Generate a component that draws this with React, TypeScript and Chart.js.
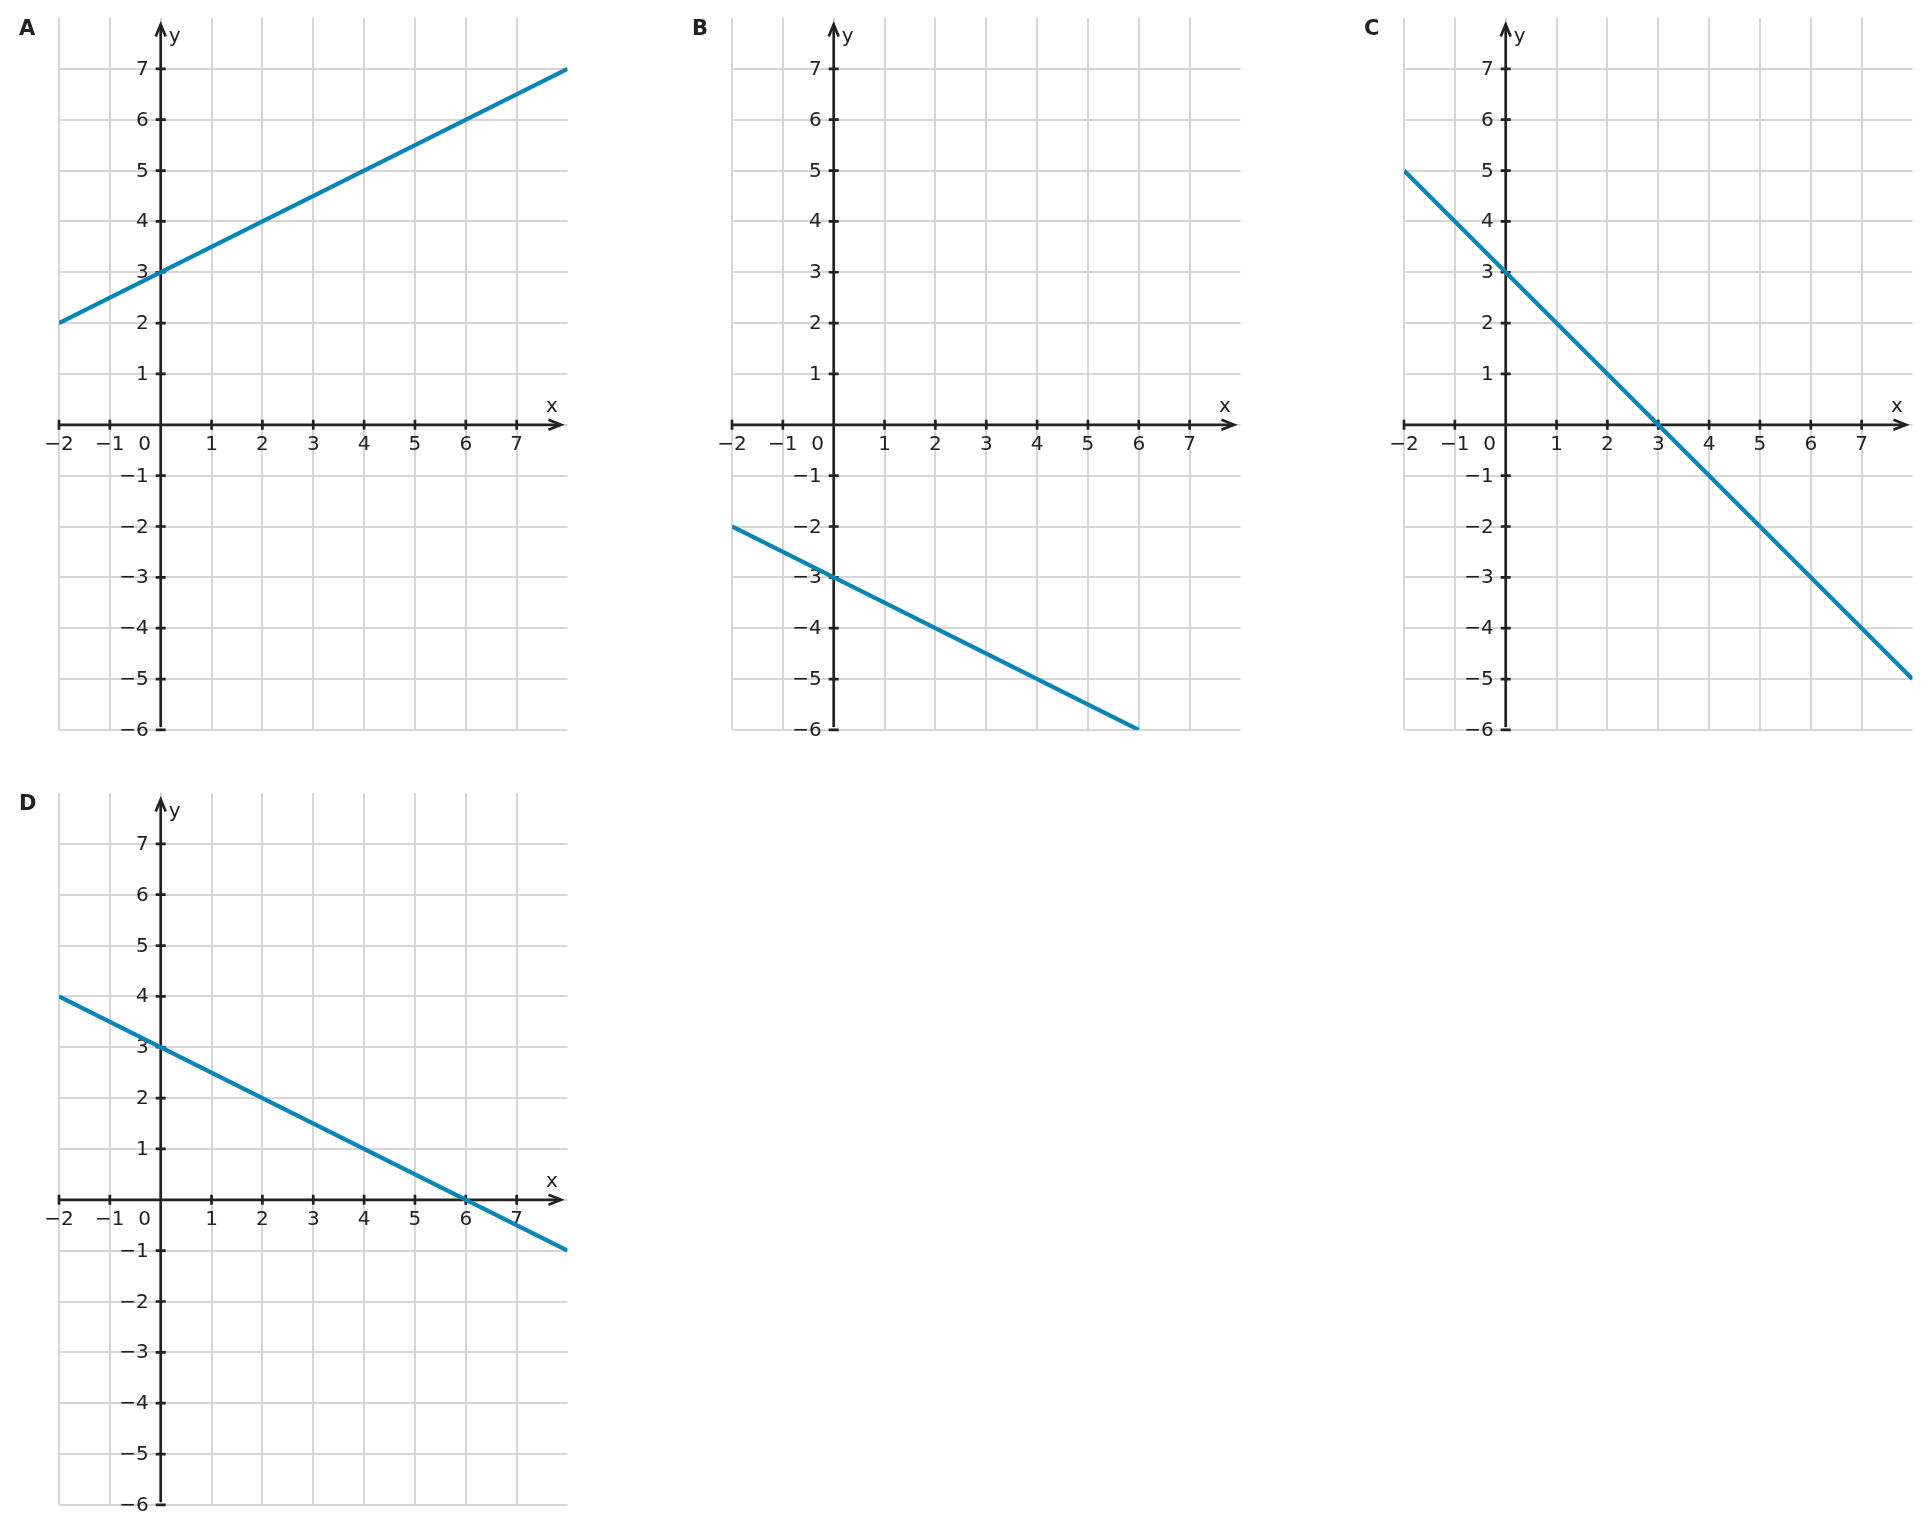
import { useEffect, useRef } from 'react';
import { Chart, registerables } from 'chart.js';

Chart.register(...registerables);

// data
const panelLetters = ['A', 'B', 'C', 'D'];
const lineXs: number[][] = [[-2, 8], [-2, 6], [-2, 8], [-2, 8]];
const lineYs: number[][] = [[2, 7], [-2, -6], [5, -5], [4, -1]];
const xTickValues = [-2, -1, 1, 2, 3, 4, 5, 6, 7];
const yTickValues = [7, 6, 5, 4, 3, 2, 1, -1, -2, -3, -4, -5, -6];
const xRange = [-2, 8];
const yRange = [-6, 8];

// layout
const UNIT = 50.85;
const PAD_L = 52;
const PAD_T = 16;
const BOX_W = 581;
const BOX_H = 740;
const gridOrigins: [number, number][] = [
  [59.3, 17.5],
  [732.3, 17.5],
  [1404.3, 17.5],
  [59.3, 793],
];

const INK = '#222222';
const LINE_BLUE = '#0a84b8';
const GRID_GREY = '#d6d6d6';
const FONT = '"DejaVu Sans", "Noto Sans", sans-serif';

const minus = (v: number) => (v < 0 ? '\u2212' + Math.abs(v) : String(v));

function axesPlugin(letter: string) {
  return {
    id: 'axes-' + letter,
    beforeDatasetsDraw(chart: Chart) {
      const { ctx, chartArea } = chart;
      const xs = chart.scales.x;
      const ys = chart.scales.y;
      const ox = xs.getPixelForValue(0);
      const oy = ys.getPixelForValue(0);
      const left = xs.getPixelForValue(xRange[0]);
      const bottom = ys.getPixelForValue(yRange[0]);
      const tipX = chartArea.right - 6.5;
      const tipY = chartArea.top + 6.5;

      ctx.save();
      ctx.strokeStyle = INK;
      ctx.fillStyle = INK;
      ctx.lineWidth = 2.7;
      ctx.lineCap = 'butt';
      ctx.lineJoin = 'miter';

      // axis lines
      ctx.beginPath();
      ctx.moveTo(left, oy);
      ctx.lineTo(tipX, oy);
      ctx.moveTo(ox, bottom - 3);
      ctx.lineTo(ox, tipY);
      ctx.stroke();

      // arrow heads
      ctx.beginPath();
      ctx.moveTo(tipX - 12.5, oy - 5);
      ctx.lineTo(tipX, oy);
      ctx.lineTo(tipX - 12.5, oy + 5);
      ctx.moveTo(ox - 5, tipY + 12);
      ctx.lineTo(ox, tipY);
      ctx.lineTo(ox + 5, tipY + 12);
      ctx.stroke();

      // tick marks
      ctx.beginPath();
      xTickValues.forEach((v) => {
        const px = xs.getPixelForValue(v);
        ctx.moveTo(px, oy - 5);
        ctx.lineTo(px, oy + 5);
      });
      yTickValues.forEach((v) => {
        const py = ys.getPixelForValue(v);
        ctx.moveTo(ox - 5, py);
        ctx.lineTo(ox + 5, py);
      });
      ctx.stroke();

      // tick labels
      ctx.font = '20px ' + FONT;
      ctx.textBaseline = 'alphabetic';
      ctx.textAlign = 'center';
      xTickValues.forEach((v) => {
        ctx.fillText(minus(v), xs.getPixelForValue(v), oy + 25);
      });
      ctx.fillText('0', ox - 16, oy + 25);
      ctx.textAlign = 'right';
      yTickValues.forEach((v) => {
        ctx.fillText(minus(v), ox - 12, ys.getPixelForValue(v) + 6);
      });

      // axis names
      ctx.textAlign = 'left';
      ctx.fillText('y', ox + 8, chartArea.top + 23.5);
      ctx.textAlign = 'center';
      ctx.fillText('x', tipX - 9, oy - 12.5);

      // panel letter
      ctx.font = 'bold 21px ' + FONT;
      ctx.textAlign = 'left';
      ctx.fillText(letter, chartArea.left - 40, chartArea.top + 16.8);
      ctx.restore();
    },
  };
}

// no grid line along the top (y = 8) or right (x = 8) edge
const gridColor = (upper: number) => (c: any) =>
  c.tick && c.tick.value === upper ? 'rgba(0,0,0,0)' : GRID_GREY;

function Panel({ index }: { index: number }) {
  const canvasRef = useRef<HTMLCanvasElement | null>(null);

  useEffect(() => {
    if (canvasRef.current === null) return () => {};
    const padR = BOX_W - PAD_L - UNIT * (xRange[1] - xRange[0]);
    const padB = BOX_H - PAD_T - UNIT * (yRange[1] - yRange[0]);
    const points = lineXs[index].map((x, i) => ({ x, y: lineYs[index][i] }));
    const chart = new Chart(canvasRef.current, {
      type: 'scatter',
      data: {
        datasets: [
          {
            data: points,
            showLine: true,
            borderColor: LINE_BLUE,
            borderWidth: 4.2,
            pointRadius: 0,
            pointHoverRadius: 0,
          },
        ],
      },
      options: {
        animation: false,
        responsive: true,
        maintainAspectRatio: false,
        events: [],
        layout: { padding: { left: PAD_L, top: PAD_T, right: padR, bottom: padB } },
        plugins: {
          legend: { display: false },
          tooltip: { enabled: false },
        },
        scales: {
          x: {
            type: 'linear',
            min: xRange[0],
            max: xRange[1],
            ticks: { display: false, stepSize: 1 },
            grid: { color: gridColor(xRange[1]), lineWidth: 2, drawTicks: false },
            border: { display: false },
          },
          y: {
            type: 'linear',
            min: yRange[0],
            max: yRange[1],
            ticks: { display: false, stepSize: 1 },
            grid: { color: gridColor(yRange[1]), lineWidth: 2, drawTicks: false },
            border: { display: false },
          },
        },
      },
      plugins: [axesPlugin(panelLetters[index])],
    });
    return () => {
      chart.destroy();
    };
  }, [index]);

  const [gx, gy] = gridOrigins[index];
  return (
    <div
      style={{
        position: 'absolute',
        left: gx - PAD_L,
        top: gy - PAD_T,
        width: BOX_W,
        height: BOX_H,
      }}
    >
      <canvas ref={canvasRef} />
    </div>
  );
}

export default function App() {
  return (
    <div style={{ position: 'absolute', left: 0, top: 0, width: 1931, height: 1534, background: '#fff' }}>
      {panelLetters.map((letter, i) => (
        <Panel key={letter} index={i} />
      ))}
    </div>
  );
}
